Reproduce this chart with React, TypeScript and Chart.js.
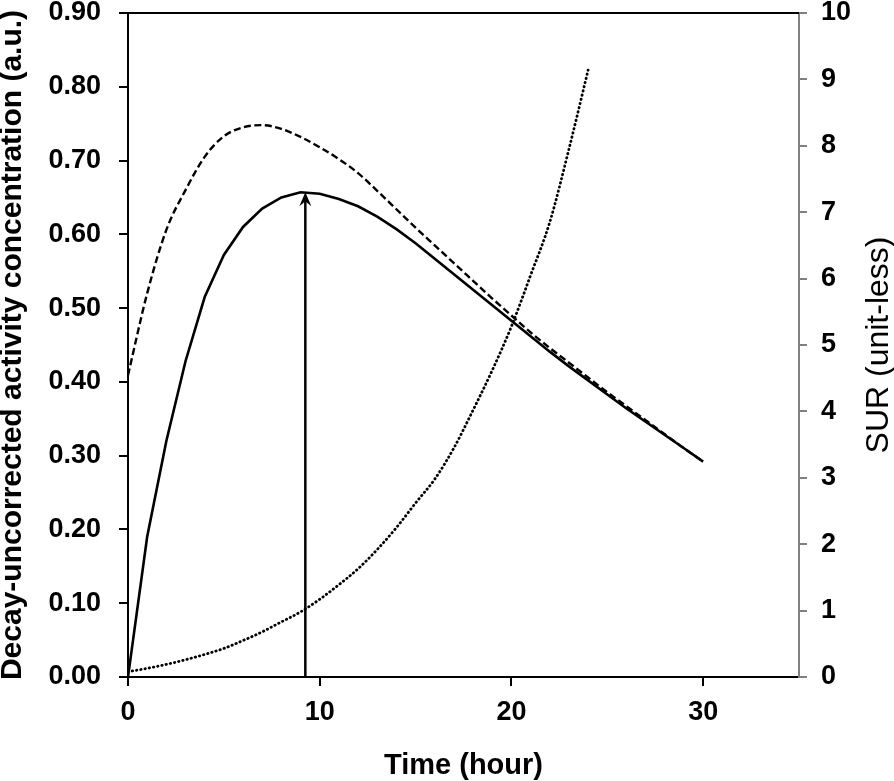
import React, { useEffect, useRef } from "react";
import { Chart, registerables } from "chart.js";

Chart.register(...registerables);

// Time points (hours)
const hours: number[] = [0,1,2,3,4,5,6,7,8,9,10,11,12,13,14,15,16,17,18,19,20,21,22,23,24,25,26,27,28,29,30];
// Decay-uncorrected activity concentration (solid)
const uncorrected: number[] = [0,0.19,0.32,0.428,0.515,0.572,0.61,0.635,0.65,0.657,0.655,0.648,0.638,0.624,0.607,0.588,0.567,0.546,0.525,0.504,0.483,0.462,0.441,0.421,0.402,0.383,0.364,0.346,0.328,0.31,0.292];
// Second concentration curve (dashed)
const dashedCurve: number[] = [0.409,0.52,0.606,0.66,0.705,0.733,0.745,0.748,0.743,0.732,0.718,0.702,0.683,0.659,0.634,0.609,0.585,0.561,0.537,0.513,0.49,0.467,0.446,0.426,0.406,0.386,0.367,0.348,0.329,0.31,0.292];
// SUR (dotted, right axis)
const surHours: number[] = [0,1,2,3,4,5,6,7,8,9,10,11,12,13,14,15,16,17,18,19,20,21,22,23,24];
const sur: number[] = [0.08,0.13,0.19,0.26,0.34,0.43,0.55,0.68,0.83,0.98,1.17,1.39,1.63,1.92,2.25,2.62,2.98,3.45,4.02,4.62,5.28,6.05,6.85,7.95,9.14];
// Arrow marking the peak of the uncorrected curve
const arrowTime = 9.25;
const arrowPeak = 0.657;

const xTitle = "Time (hour)";
const yTitle = "Decay-uncorrected activity concentration (a.u.)";
const y2Title = "SUR (unit-less)";

const FONT = "'Liberation Sans', Arial, Helvetica, sans-serif";

function zeroPad(scale: any) {
  scale.paddingTop = 0;
  scale.paddingBottom = 0;
  scale.paddingLeft = 0;
  scale.paddingRight = 0;
}

export default function App() {
  const ref = useRef<HTMLCanvasElement | null>(null);
  useEffect(() => {
    if (!ref.current) return;
    const framePlugin = {
      id: "frame",
      afterDatasetsDraw(chart: any) {
        const { ctx, chartArea, scales } = chart;
        ctx.save();
        // top border
        ctx.strokeStyle = "#000";
        ctx.lineWidth = 2;
        ctx.beginPath();
        ctx.moveTo(chartArea.left - 1, chartArea.top);
        ctx.lineTo(chartArea.right, chartArea.top);
        ctx.stroke();
        // arrow
        const px = scales.x.getPixelForValue(arrowTime);
        const y0 = scales.y.getPixelForValue(0);
        const y1 = scales.y.getPixelForValue(arrowPeak);
        ctx.lineWidth = 2.5;
        ctx.beginPath();
        ctx.moveTo(px, y0);
        ctx.lineTo(px, y1 + 6);
        ctx.stroke();
        ctx.fillStyle = "#000";
        ctx.beginPath();
        ctx.moveTo(px, y1);
        ctx.lineTo(px + 6, y1 + 14);
        ctx.lineTo(px, y1 + 9);
        ctx.lineTo(px - 6, y1 + 14);
        ctx.closePath();
        ctx.fill();
        ctx.restore();
      },
      afterDraw(chart: any) {
        const { ctx, chartArea } = chart;
        ctx.save();
        ctx.translate(879, (chartArea.top + chartArea.bottom) / 2);
        ctx.rotate(-Math.PI / 2);
        ctx.font = `normal 32px ${FONT}`;
        ctx.fillStyle = "#000";
        ctx.textAlign = "center";
        ctx.textBaseline = "middle";
        ctx.fillText(y2Title, 0, 0);
        ctx.restore();
      },
    };
    const chart = new Chart(ref.current, {
      type: "line",
      data: {
        datasets: [
          {
            label: "uncorrected",
            data: hours.map((t, i) => ({ x: t, y: uncorrected[i] })),
            borderColor: "#000",
            borderWidth: 2.6,
            pointRadius: 0,
            tension: 0,
            yAxisID: "y",
          },
          {
            label: "dashed",
            data: hours.map((t, i) => ({ x: t, y: dashedCurve[i] })),
            borderColor: "#000",
            borderWidth: 2.4,
            borderDash: [7, 3.5],
            pointRadius: 0,
            cubicInterpolationMode: "monotone",
            yAxisID: "y",
          },
          {
            label: "SUR",
            data: surHours.map((t, i) => ({ x: t, y: sur[i] })),
            borderColor: "#000",
            borderWidth: 2.8,
            borderDash: [0.4, 3.9],
            borderCapStyle: "round",
            pointRadius: 0,
            cubicInterpolationMode: "monotone",
            yAxisID: "y2",
          },
        ],
      },
      options: {
        animation: false,
        responsive: false,
        devicePixelRatio: 1,
        layout: { padding: { top: 13, left: 0, right: 0, bottom: 0 } },
        plugins: { legend: { display: false }, tooltip: { enabled: false } },
        scales: {
          x: {
            type: "linear",
            position: "bottom",
            min: 0,
            max: 35,
            ticks: {
              stepSize: 10,
              includeBounds: false,
              color: "#000",
              font: { family: FONT, size: 27, weight: "bold" },
              padding: 10,
              maxRotation: 0,
            },
            grid: { drawOnChartArea: false, drawTicks: true, tickLength: 9, color: "#000", lineWidth: 2 },
            border: { display: true, color: "#000", width: 2 },
            title: {
              display: true,
              text: xTitle,
              color: "#000",
              font: { family: FONT, size: 29, weight: "bold", lineHeight: 1 },
              padding: { top: 0, bottom: 1 },
            },
            afterFit(scale: any) { scale.height = 104; zeroPad(scale); },
          },
          y: {
            type: "linear",
            position: "left",
            min: 0,
            max: 0.9,
            ticks: {
              stepSize: 0.1,
              color: "#000",
              font: { family: FONT, size: 27, weight: "bold" },
              padding: 18,
              callback: (v: any) => Number(v).toFixed(2),
            },
            grid: { drawOnChartArea: false, drawTicks: true, tickLength: 9, color: "#000", lineWidth: 2 },
            border: { display: true, color: "#000", width: 2 },
            title: {
              display: true,
              text: yTitle,
              color: "#000",
              font: { family: FONT, size: 30, weight: "bold", lineHeight: 1 },
              padding: { top: -2, bottom: 0 },
            },
            afterFit(scale: any) { scale.width = 128; zeroPad(scale); },
          },
          y2: {
            type: "linear",
            position: "right",
            min: 0,
            max: 10,
            ticks: {
              stepSize: 1,
              color: "#000",
              font: { family: FONT, size: 27, weight: "bold" },
              padding: 14,
            },
            grid: { drawOnChartArea: false, drawTicks: true, tickLength: 8, color: "#808080", lineWidth: 2 },
            border: { display: true, color: "#808080", width: 2 },
            afterFit(scale: any) { scale.width = 95; zeroPad(scale); },
          },
        },
      },
      plugins: [framePlugin],
    } as any);
    return () => chart.destroy();
  }, []);
  return (
    <div style={{ position: "fixed", left: 0, top: 0, width: 894, height: 781, background: "#fff" }}>
      <canvas ref={ref} width={894} height={781} style={{ width: 894, height: 781, display: "block" }} />
    </div>
  );
}
